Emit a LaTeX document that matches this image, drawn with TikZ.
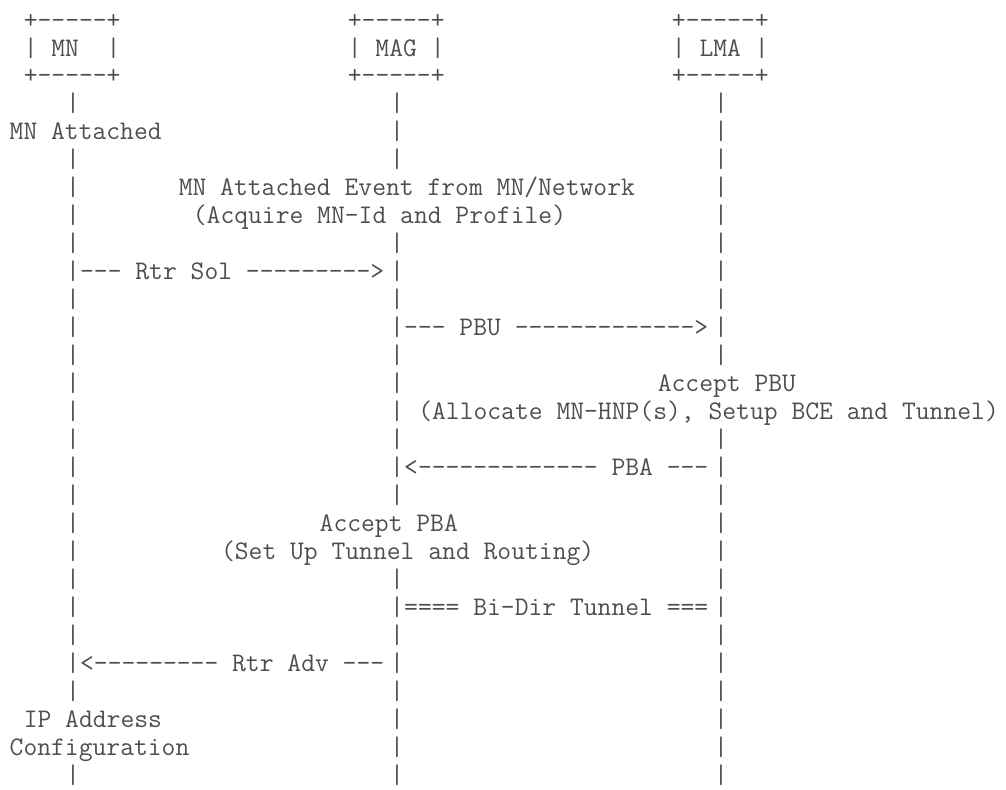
\documentclass[tikz,border=0pt]{standalone}
\usepackage{tikz}

\definecolor{ink}{HTML}{4E4E4E}

\begin{document}
\begin{tikzpicture}[x=14.09pt, y=-27.96pt,
    ascii/.style={anchor=base west, inner sep=0pt, outer sep=0pt, text=ink,
      font=\ttfamily\fontsize{26.84pt}{27.96pt}\selectfont}]
  \useasboundingbox (-0.688,-0.644) rectangle (70.71,27.61);
  % Boxes (une colonne = un caractere, une ligne = une ligne de texte)
  \node[ascii] (mn-top)  at (1,0.36)  {+-----+};
  \node[ascii] (mn-name) at (1,1.36)  {| MN~~|};
  \node[ascii] (mn-bot)  at (1,2.36)  {+-----+};
  \node[ascii] (mag-top)  at (24,0.36) {+-----+};
  \node[ascii] (mag-name) at (24,1.36) {| MAG |};
  \node[ascii] (mag-bot)  at (24,2.36) {+-----+};
  \node[ascii] (lma-top)  at (47,0.36) {+-----+};
  \node[ascii] (lma-name) at (47,1.36) {| LMA |};
  \node[ascii] (lma-bot)  at (47,2.36) {+-----+};
  % Lignes de vie
  \foreach \r in {3,5,6,...,24,27}
    \node[ascii] (mn-\r) at (4,\r+0.36) {|};
  \foreach \r in {3,4,5,8,9,...,17,20,21,...,27}
    \node[ascii] (mag-\r) at (27,\r+0.36) {|};
  \foreach \r in {3,4,...,12,15,16,...,27}
    \node[ascii] (lma-\r) at (50,\r+0.36) {|};
  % Attachement du MN
  \node[ascii] (attached) at (0,4.36)  {MN Attached};
  \node[ascii] (event)    at (12,6.36) {MN Attached Event from MN/Network};
  \node[ascii] (acquire)  at (13,7.36) {(Acquire MN-Id and Profile)};
  % Messages
  \node[ascii] (rtrsol) at (5,9.36)   {--- Rtr Sol --------->};
  \node[ascii] (pbu)    at (28,11.36) {--- PBU ------------->};
  \node[ascii] (acceptpbu) at (46,13.36) {Accept PBU};
  \node[ascii] (allocate)  at (29,14.36) {(Allocate MN-HNP(s), Setup BCE and Tunnel)};
  \node[ascii] (pba)    at (28,16.36) {<------------- PBA ---};
  \node[ascii] (acceptpba) at (22,18.36) {Accept PBA};
  \node[ascii] (setup)     at (15,19.36) {(Set Up Tunnel and Routing)};
  \node[ascii] (tunnel) at (28,21.36) {==== Bi-Dir Tunnel ===};
  \node[ascii] (rtradv) at (5,23.36)  {<--------- Rtr Adv ---};
  % Configuration d'adresse
  \node[ascii] (ipaddr) at (1,25.36) {IP Address};
  \node[ascii] (config) at (0,26.36) {Configuration};
\end{tikzpicture}
\end{document}
